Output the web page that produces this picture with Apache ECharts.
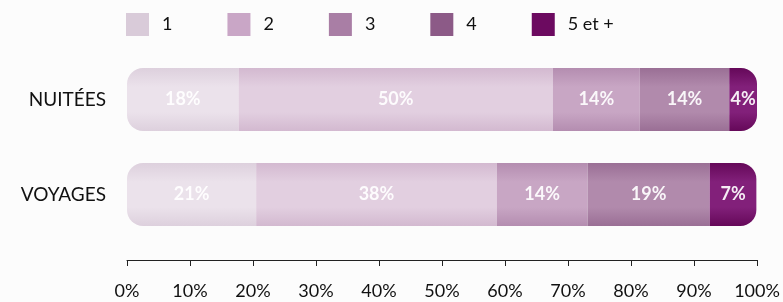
<!DOCTYPE html>
<html>
<head>
<meta charset="utf-8">
<script src="https://cdn.jsdelivr.net/npm/echarts@6/dist/echarts.min.js"></script>
<style>
    html, body { margin: 0; padding: 0; background: #fcfcfc; }
    #chart { width: 783px; height: 302px; }
</style>
</head>
<body>
<div id="chart"></div>
<script>
// catégories (de haut en bas)
const categories = ['NUITÉES', 'VOYAGES']
const seriesNames = ['1', '2', '3', '4', '5 et +']
// parts estimées (%) par catégorie, dans l'ordre des séries
const nuitees = [17.7, 49.9, 13.8, 14.2, 4.4]
const voyages = [20.5, 38.2, 14.4, 19.4, 7.4]
const xTicks = [0, 10, 20, 30, 40, 50, 60, 70, 80, 90, 100]

const legendColors = ['#d9cbd9', '#c9a6c6', '#a97ea5', '#8c5a87', '#6c0a60']
// couleur du centre / des bords du segment (effet brillant)
const barColors = [
    ['#ebe2eb', '#ddd0dd'],
    ['#e2cfe0', '#d3b9d0'],
    ['#c8a6c4', '#b48db0'],
    ['#b18aac', '#9a6f95'],
    ['#82207a', '#650859']
]

const FONT = 'Lato'

const gloss = (c) => new echarts.graphic.LinearGradient(0, 0, 0, 1, [
    {offset: 0, color: c[1]},
    {offset: 0.3, color: c[0]},
    {offset: 0.7, color: c[0]},
    {offset: 1, color: c[1]}
])

const series = seriesNames.map((name, i) => {
    let radius = 0
    if (i === 0) radius = [16, 0, 0, 16]
    if (i === seriesNames.length - 1) radius = [0, 16, 16, 0]
    return {
        name: name,
        type: 'bar',
        stack: 'total',
        barWidth: 63,
        color: legendColors[i],
        itemStyle: {
            color: gloss(barColors[i]),
            borderRadius: radius
        },
        label: {
            show: true,
            position: 'inside',
            color: 'rgba(255,255,255,0.92)',
            fontFamily: FONT,
            fontWeight: 'bold',
            fontSize: 18,
            formatter: (p) => Math.round(p.value) + '%'
        },
        data: [nuitees[i], voyages[i]]
    }
})

const myChart = echarts.init(document.getElementById('chart'))
myChart.setOption({
    backgroundColor: '#fcfcfc',
    animation: false,
    legend: {
        left: 126,
        top: 13,
        padding: 0,
        itemWidth: 23,
        itemHeight: 23,
        itemGap: 55,
        icon: 'rect',
        data: seriesNames.map((n, i) => ({name: n, itemStyle: {color: legendColors[i]}})),
        textStyle: {
            fontFamily: FONT,
            fontSize: 18,
            color: '#111',
            padding: [0, 0, 0, 8]
        }
    },
    grid: {
        left: 127,
        width: 630,
        top: 52,
        height: 190
    },
    xAxis: {
        type: 'value',
        min: 0,
        max: 100,
        interval: 10,
        offset: 18,
        splitLine: {show: false},
        axisLine: {show: true, lineStyle: {color: '#222', width: 1}},
        axisTick: {show: true, inside: false, length: 6, lineStyle: {color: '#222'}},
        axisLabel: {
            margin: 22,
            fontFamily: FONT,
            fontSize: 18,
            color: '#111',
            formatter: (v) => xTicks.includes(v) ? v + '%' : ''
        }
    },
    yAxis: {
        type: 'category',
        inverse: true,
        data: categories,
        axisLine: {show: false},
        axisTick: {show: false},
        axisLabel: {
            margin: 21,
            fontFamily: FONT,
            fontSize: 19,
            color: '#111'
        }
    },
    series: series
})
</script>
</body>
</html>
